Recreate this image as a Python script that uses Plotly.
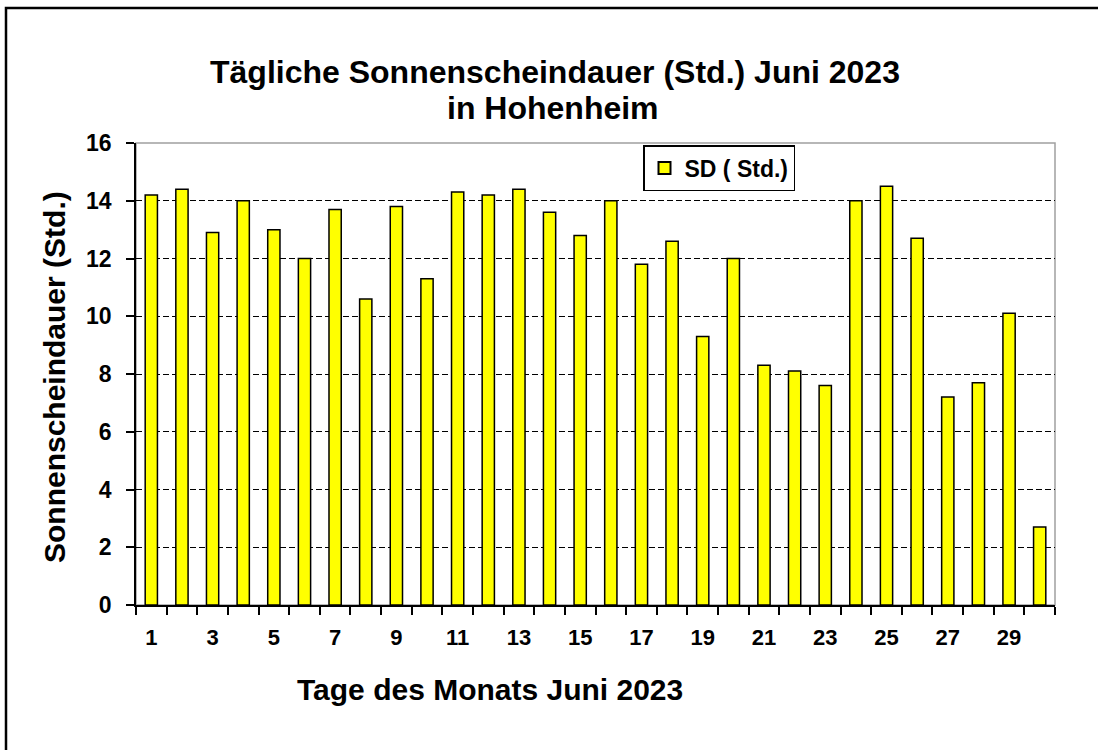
import plotly.graph_objects as go

days = list(range(1, 31))
sunshine = [14.2, 14.4, 12.9, 14.0, 13.0, 12.0, 13.7, 10.6, 13.8, 11.3,
            14.3, 14.2, 14.4, 13.6, 12.8, 14.0, 11.8, 12.6, 9.3, 12.0,
            8.3, 8.1, 7.6, 14.0, 14.5, 12.7, 7.2, 7.7, 10.1, 2.7]
x_tick_vals = list(range(1, 30, 2))
x_tick_text = [str(v) for v in x_tick_vals]
y_tick_vals = list(range(0, 17, 2))

W, H = 1098, 750
L, R, T, B = 136, 1055, 143, 605
pw, ph = R - L, B - T

def px(x):
    return (x - L) / pw

def py(y):
    return (B - y) / ph

FONT = "Liberation Sans, Arial, sans-serif"

fig = go.Figure()
fig.add_trace(go.Bar(
    x=days, y=sunshine, name="SD ( Std.)",
    marker=dict(color="#FFFF00", line=dict(color="black", width=1.5)),
    width=0.4,
))

fig.update_layout(
    width=W, height=H,
    margin=dict(l=L, r=W - R, t=T, b=H - B),
    paper_bgcolor="white", plot_bgcolor="white",
    font=dict(family=FONT, color="black"),
    showlegend=True,
    legend=dict(
        x=px(643), y=py(145), xanchor="left", yanchor="top",
        bordercolor="black", borderwidth=1.5, bgcolor="white",
        font=dict(family=FONT, size=23, color="black", weight="bold"),
        itemsizing="constant", tracegroupgap=0,
    ),
    xaxis=dict(
        range=[0.5, 30.5], tickmode="array", tickvals=x_tick_vals, ticktext=x_tick_text,
        ticks="", showgrid=False, zeroline=False,
        showline=True, linecolor="black", linewidth=1.5,
        tickfont=dict(family=FONT, size=22, color="black", weight="bold"),
        ticklabelstandoff=12,
        minor=dict(ticks="outside", tick0=0.5, dtick=1, ticklen=8, tickwidth=1.5,
                   tickcolor="black", showgrid=False),
    ),
    yaxis=dict(
        range=[0, 16], tickmode="array", tickvals=y_tick_vals,
        ticks="outside", ticklen=8, tickwidth=1.5, tickcolor="black",
        showgrid=True, gridcolor="black", griddash="6px,3px", gridwidth=1.3,
        zeroline=False, showline=True, linecolor="black", linewidth=1.5,
        tickfont=dict(family=FONT, size=23, color="black", weight="bold"),
        ticklabelstandoff=10,
    ),
    bargap=0.6,
)

# gray plot border (top/right)
fig.add_shape(type="rect", xref="paper", yref="paper", x0=0, y0=0, x1=1, y1=1,
              line=dict(color="#A0A0A0", width=1.5), layer="below")
# outer chart frame
fig.add_shape(type="rect", xref="paper", yref="paper",
              x0=px(6), y0=py(770), x1=px(1120), y1=py(8),
              line=dict(color="black", width=2.5), layer="below")

fig.add_annotation(
    text="Tägliche Sonnenscheindauer (Std.) Juni 2023",
    xref="paper", yref="paper", x=px(555), y=py(72), xanchor="center", yanchor="middle",
    showarrow=False, font=dict(family=FONT, size=32, color="black", weight="bold"),
)
fig.add_annotation(
    text="in Hohenheim",
    xref="paper", yref="paper", x=px(553), y=py(108), xanchor="center", yanchor="middle",
    showarrow=False, font=dict(family=FONT, size=32, color="black", weight="bold"),
)
fig.add_annotation(
    text="Sonnenscheindauer (Std.)", textangle=-90,
    xref="paper", yref="paper", x=px(54), y=py(377), xanchor="center", yanchor="middle",
    showarrow=False, font=dict(family=FONT, size=30, color="black", weight="bold"),
)
fig.add_annotation(
    text="Tage des Monats Juni 2023",
    xref="paper", yref="paper", x=px(490), y=py(689), xanchor="center", yanchor="middle",
    showarrow=False, font=dict(family=FONT, size=30, color="black", weight="bold"),
)

fig.write_html("out.html", config={"displayModeBar": False},
               post_script="document.body.style.margin='0';document.body.style.overflow='hidden';")
